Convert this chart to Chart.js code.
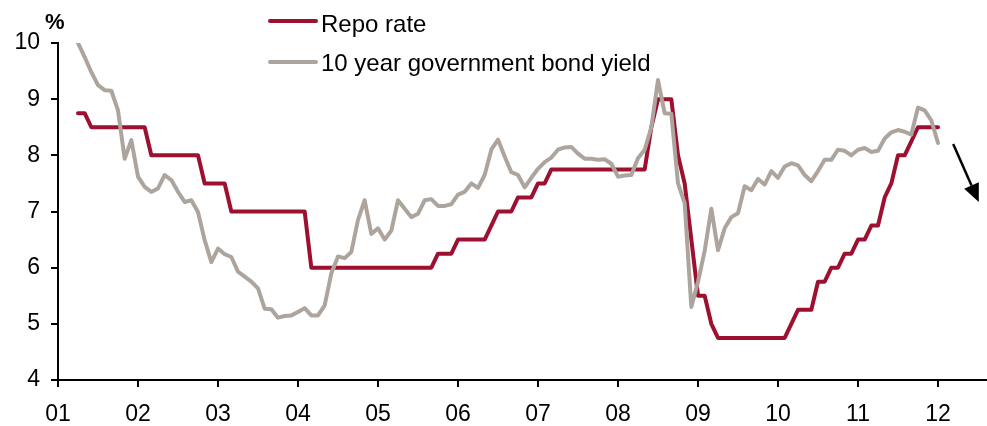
<!DOCTYPE html>
<html>
<head>
<meta charset="utf-8">
<script src="https://cdn.jsdelivr.net/npm/chart.js@4.4.1/dist/chart.umd.min.js"></script>
<style>
  html, body { margin: 0; padding: 0; background: #fff; }
  #wrap { position: relative; width: 987px; height: 426px; font-family: "Liberation Sans", Arial, sans-serif; color: #000; }
  #wrap canvas { position: absolute; left: 0; top: 0; }
  .unit { position: absolute; left: 45px; top: 11px; font-size: 22px; line-height: 22px; font-weight: bold; }
  .lg-line { position: absolute; left: 268px; width: 50px; height: 4px; border-radius: 2px; }
  .lg-text { position: absolute; left: 321px; font-size: 24px; line-height: 24px; white-space: nowrap; }
</style>
</head>
<body>
<div id="wrap">
  <canvas id="chart"></canvas>
  <div class="unit">%</div>
  <div class="lg-line" style="top:19px;background:#9d1030"></div>
  <div class="lg-text" style="top:12px">Repo rate</div>
  <div class="lg-line" style="top:60px;background:#ada59d"></div>
  <div class="lg-text" style="top:51px">10 year government bond yield</div>
</div>
<script>
// monthly data, first point = April 2001 (month index 3 counted from Jan 2001)
const firstMonth = 3;
const repoRate = [
  8.75, 8.75,
  8.5, 8.5, 8.5, 8.5, 8.5, 8.5, 8.5, 8.5, 8.5,
  8, 8, 8, 8, 8, 8, 8, 8,
  7.5, 7.5, 7.5, 7.5,
  7, 7, 7, 7, 7, 7, 7, 7, 7, 7, 7, 7,
  6, 6, 6, 6, 6, 6, 6, 6, 6, 6, 6, 6, 6, 6, 6, 6, 6, 6, 6,
  6.25, 6.25, 6.25,
  6.5, 6.5, 6.5, 6.5, 6.5,
  6.75,
  7, 7, 7,
  7.25, 7.25, 7.25,
  7.5, 7.5,
  7.75, 7.75, 7.75, 7.75, 7.75, 7.75, 7.75, 7.75, 7.75, 7.75, 7.75, 7.75, 7.75, 7.75, 7.75,
  8.5,
  9, 9, 9,
  8, 7.5, 6.5,
  5.5, 5.5,
  5,
  4.75, 4.75, 4.75, 4.75, 4.75, 4.75, 4.75, 4.75, 4.75, 4.75, 4.75,
  5,
  5.25, 5.25, 5.25,
  5.75, 5.75,
  6, 6,
  6.25, 6.25,
  6.5, 6.5,
  6.75, 6.75,
  7.25, 7.5,
  8, 8,
  8.25,
  8.5, 8.5, 8.5, 8.5
];
const bondYield = [
  10.0, 9.75, 9.48, 9.25, 9.16, 9.15, 8.8, 7.94, 8.27,
  7.62, 7.44, 7.35, 7.41, 7.65, 7.56, 7.35, 7.17, 7.2, 6.99, 6.49, 6.1, 6.34,
  6.24, 6.19, 5.93, 5.84, 5.75, 5.63, 5.27, 5.26, 5.11, 5.14, 5.15, 5.21,
  5.28, 5.15, 5.15, 5.33, 5.9, 6.2, 6.17, 6.28, 6.85, 7.2, 6.6, 6.7,
  6.5, 6.66, 7.2, 7.05, 6.9, 6.96, 7.2, 7.22, 7.1, 7.1, 7.13, 7.3,
  7.35, 7.5, 7.42, 7.65, 8.1, 8.28, 7.98, 7.7, 7.65, 7.43, 7.6, 7.76,
  7.88, 7.96, 8.1, 8.14, 8.15, 8.03, 7.94, 7.94, 7.92, 7.93, 7.85, 7.62,
  7.64, 7.65, 7.95, 8.1, 8.5, 9.34, 8.75, 8.74, 7.5, 7.15, 5.3, 5.75,
  6.3, 7.05, 6.31, 6.7, 6.9, 6.97, 7.45, 7.38, 7.58, 7.48, 7.72, 7.6,
  7.8, 7.86, 7.82, 7.65, 7.54, 7.72, 7.92, 7.92, 8.1, 8.08, 8.0, 8.1,
  8.13, 8.06, 8.08, 8.3, 8.41, 8.45, 8.42, 8.37, 8.85, 8.8, 8.62, 8.22
];
const yearTicks = [1, 2, 3, 4, 5, 6, 7, 8, 9, 10, 11, 12];
const yearLabels = ['01', '02', '03', '04', '05', '06', '07', '08', '09', '10', '11', '12'];
const arrowFrom = [12.19, 8.2];
const arrowTo = [12.51, 7.17];

const toPoints = arr => arr.map((v, i) => ({ x: 1 + (firstMonth + i) / 12, y: v }));

const arrowPlugin = {
  id: 'arrow',
  afterDatasetsDraw(chart) {
    const { ctx, scales: { x, y } } = chart;
    const x1 = x.getPixelForValue(arrowFrom[0]), y1 = y.getPixelForValue(arrowFrom[1]);
    const x2 = x.getPixelForValue(arrowTo[0]), y2 = y.getPixelForValue(arrowTo[1]);
    const a = Math.atan2(y2 - y1, x2 - x1);
    const head = 18, half = 8;
    const bx = x2 - head * Math.cos(a), by = y2 - head * Math.sin(a);
    ctx.save();
    ctx.strokeStyle = '#000';
    ctx.fillStyle = '#000';
    ctx.lineWidth = 2.5;
    ctx.beginPath();
    ctx.moveTo(x1, y1);
    ctx.lineTo(bx, by);
    ctx.stroke();
    ctx.beginPath();
    ctx.moveTo(x2, y2);
    ctx.lineTo(bx + half * Math.sin(a), by - half * Math.cos(a));
    ctx.lineTo(bx - half * Math.sin(a), by + half * Math.cos(a));
    ctx.closePath();
    ctx.fill();
    ctx.restore();
  }
};

const axisFont = { family: '"Liberation Sans", Arial, sans-serif', size: 23 };

new Chart(document.getElementById('chart'), {
  type: 'line',
  data: {
    datasets: [
      { label: '10 year government bond yield', data: toPoints(bondYield), borderColor: '#ada59d', borderWidth: 4, order: 1 },
      { label: 'Repo rate', data: toPoints(repoRate), borderColor: '#9d1030', borderWidth: 4, order: 2 }
    ]
  },
  options: {
    responsive: true, maintainAspectRatio: false, animation: false,
    layout: { padding: { top: 43, right: 1, left: 0, bottom: 0 } },
    elements: {
      point: { radius: 0 },
      line: { tension: 0, borderJoinStyle: 'round', borderCapStyle: 'round' }
    },
    plugins: { legend: { display: false }, tooltip: { enabled: false } },
    scales: {
      x: {
        type: 'linear', min: 1, max: 12.6,
        afterFit: s => { s.height = 46; },
        afterBuildTicks: s => { s.ticks = yearTicks.map(v => ({ value: v })); },
        ticks: { color: '#000', font: axisFont, padding: 14, maxRotation: 0,
          callback: v => yearLabels[yearTicks.indexOf(v)] },
        grid: { drawOnChartArea: false, drawTicks: true, tickLength: 7, color: '#000', lineWidth: 2 },
        border: { display: true, color: '#000', width: 2 }
      },
      y: {
        min: 4, max: 10,
        afterFit: s => { s.width = 58; },
        ticks: { stepSize: 1, color: '#000', font: axisFont, padding: 11 },
        grid: { drawOnChartArea: false, drawTicks: true, tickLength: 7, color: '#000', lineWidth: 2 },
        border: { display: true, color: '#000', width: 2 }
      }
    }
  },
  plugins: [arrowPlugin]
});
</script>
</body>
</html>
